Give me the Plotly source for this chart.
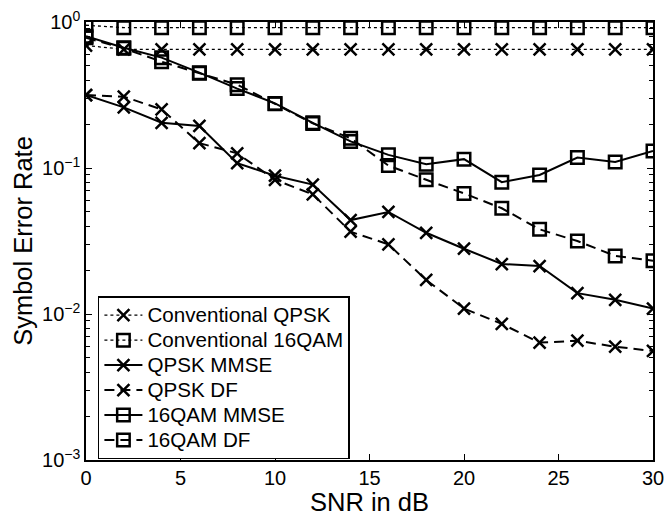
import plotly.graph_objects as go

snr = [0, 2, 4, 6, 8, 10, 12, 14, 16, 18, 20, 22, 24, 26, 28, 30]

conv_qpsk = [0.69, 0.65, 0.65, 0.65, 0.65, 0.65, 0.65, 0.65, 0.65, 0.65, 0.65, 0.65, 0.65, 0.65, 0.65, 0.65]
conv_16qam = [0.95, 0.915, 0.915, 0.915, 0.915, 0.915, 0.915, 0.915, 0.915, 0.915, 0.915, 0.915, 0.915, 0.915, 0.915, 0.915]
qpsk_mmse = [0.316, 0.26, 0.204, 0.194, 0.108, 0.0886, 0.077, 0.044, 0.050, 0.036, 0.028, 0.022, 0.0213, 0.0139, 0.0125, 0.0109]
qpsk_df = [0.316, 0.308, 0.252, 0.148, 0.126, 0.083, 0.066, 0.0366, 0.030, 0.0171, 0.0109, 0.00855, 0.00637, 0.00656, 0.00597, 0.00558]
qam_mmse = [0.80, 0.667, 0.57, 0.45, 0.35, 0.277, 0.204, 0.152, 0.123, 0.106, 0.115, 0.080, 0.0896, 0.118, 0.110, 0.131]
qam_df = [0.78, 0.66, 0.535, 0.445, 0.372, 0.275, 0.202, 0.16, 0.104, 0.083, 0.067, 0.053, 0.038, 0.0316, 0.025, 0.0232]

names = ["Conventional QPSK", "Conventional 16QAM", "QPSK MMSE", "QPSK DF", "16QAM MMSE", "16QAM DF"]
series = [conv_qpsk, conv_16qam, qpsk_mmse, qpsk_df, qam_mmse, qam_df]
dashes = ["dot", "dot", "solid", "10px,6px", "solid", "10px,6px"]
symbols = ["x-thin-open", "square-open", "x-thin-open", "x-thin-open", "square-open", "square-open"]

fig = go.Figure()
for name, ys, dash, sym in zip(names, series, dashes, symbols):
    is_x = sym.startswith("x")
    fig.add_trace(go.Scatter(
        x=snr, y=ys, mode="lines+markers",
        name='<span style="font-size:20.6px">' + name + "</span>",
        line=dict(color="black", width=1.3 if dash == "dot" else 2, dash=dash),
        marker=dict(symbol=sym, size=12 if is_x else 12.5, color="black",
                    line=dict(color="black", width=2.5)),
    ))

ytv = [1e-3, 1e-2, 1e-1, 1]
ytt = ["10<sup>−3</sup>", "10<sup>−2</sup>", "10<sup>−1</sup>", "10<sup>0</sup>"]

fig.update_layout(
    width=665, height=516,
    margin=dict(l=86, r=12, t=22, b=56),
    paper_bgcolor="white", plot_bgcolor="white",
    font=dict(family="Liberation Sans, Arial, sans-serif", size=20, color="black"),
    showlegend=True,
    legend=dict(x=0.021, y=0.374, xanchor="left", yanchor="top",
                bordercolor="black", borderwidth=1.5, bgcolor="white",
                font=dict(size=16.9), tracegroupgap=0, itemwidth=38),
    xaxis=dict(range=[0, 30], tickvals=[0, 5, 10, 15, 20, 25, 30],
               ticks="inside", ticklen=6, tickwidth=1, tickcolor="black",
               showline=True, linecolor="black", linewidth=1.5, mirror="ticks",
               showgrid=False, zeroline=False, ticklabelstandoff=-1, automargin=False,
               title=dict(text="SNR in dB", font=dict(size=25.5), standoff=0),
               tickfont=dict(size=20)),
    yaxis=dict(type="log", range=[-3, 0], tickvals=ytv, ticktext=ytt,
               ticks="inside", ticklen=6, tickwidth=1, tickcolor="black",
               showline=True, linecolor="black", linewidth=1.5, mirror="ticks",
               showgrid=False, zeroline=False, automargin=False,
               minor=dict(ticks="inside", ticklen=4, tickcolor="black", dtick="D1", showgrid=False),
               title=dict(text="Symbol Error Rate", font=dict(size=25.5), standoff=2),
               tickfont=dict(size=20)),
)

fig.write_html("out.html", config={"displayModeBar": False},
               post_script="document.body.style.margin='0';")
